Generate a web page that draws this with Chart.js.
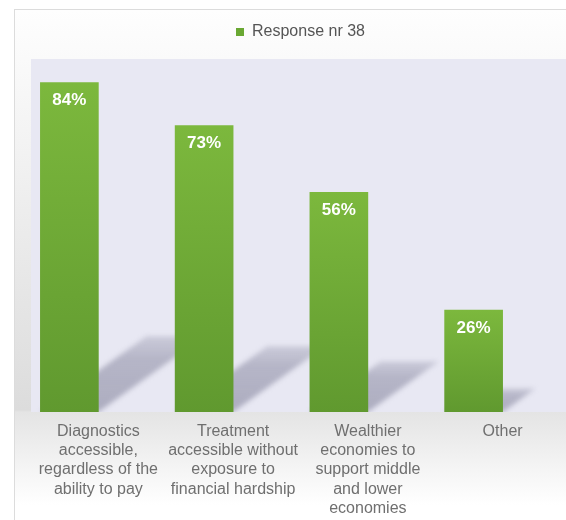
<!DOCTYPE html>
<html>
<head>
<meta charset="utf-8">
<script src="https://cdn.jsdelivr.net/npm/chart.js@4.4.1/dist/chart.umd.min.js"></script>
<style>
  html, body { margin: 0; padding: 0; width: 566px; height: 520px; overflow: hidden; background: #fff; }
  #card {
    position: absolute; left: 14px; top: 9px; width: 700px; height: 600px;
    border-top: 1px solid #dcdcdc; border-left: 1px solid #dcdcdc;
    background: linear-gradient(to bottom, #fefefe 0px, #fafafa 49px, #dcdcdc 400px, #e4e4e4 402px, #ffffff 495px);
  }
  #wrap { position: absolute; left: 0; top: 0; width: 620px; height: 531px; }
</style>
</head>
<body>
<div id="card"></div>
<div id="wrap"><canvas id="chart"></canvas></div>
<script>
// Dados do gráfico
const categorias = [
  ['Diagnostics', 'accessible,', 'regardless of the', 'ability to pay'],
  ['Treatment', 'accessible without', 'exposure to', 'financial hardship'],
  ['Wealthier', 'economies to', 'support middle', 'and lower', 'economies'],
  ['Other']
];
const valores = [84, 73, 56, 26];
const nomeSerie = 'Response nr 38';

const fonte = '"Liberation Sans", Arial, sans-serif';

// Fundo lilás da área do gráfico (estende até a borda direita)
const fundoPlugin = {
  id: 'fundo',
  beforeDraw(chart) {
    const { ctx, chartArea } = chart;
    ctx.save();
    ctx.fillStyle = '#e8e8f3';
    ctx.fillRect(chartArea.left, chartArea.top, chart.width - chartArea.left, chartArea.bottom - chartArea.top);
    ctx.restore();
  }
};

// Sombra projetada (paralelogramo) atrás de cada barra
const sombraPlugin = {
  id: 'sombra',
  beforeDatasetsDraw(chart) {
    const { ctx, chartArea } = chart;
    const meta = chart.getDatasetMeta(0);
    ctx.save();
    ctx.beginPath();
    ctx.rect(chartArea.left, chartArea.top, chart.width, chartArea.bottom - chartArea.top);
    ctx.clip();
    ctx.filter = 'blur(2.5px)';
    meta.data.forEach((bar) => {
      const w = bar.width;
      const base = bar.base;
      const h = (base - bar.y) * 0.23;
      const dx = h * 1.4;
      const left = bar.x - w / 2;
      const right = bar.x + w / 2;
      const grad = ctx.createLinearGradient(0, base, 0, base - h);
      grad.addColorStop(0, 'rgba(150,150,172,0.72)');
      grad.addColorStop(0.7, 'rgba(150,150,172,0.62)');
      grad.addColorStop(1, 'rgba(150,150,172,0.35)');
      ctx.fillStyle = grad;
      ctx.beginPath();
      ctx.moveTo(left, base);
      ctx.lineTo(right, base);
      ctx.lineTo(right + dx, base - h);
      ctx.lineTo(left + dx, base - h);
      ctx.closePath();
      ctx.fill();
    });
    ctx.restore();
  }
};

// Rótulos de percentagem dentro das barras
const rotulosPlugin = {
  id: 'rotulos',
  afterDatasetsDraw(chart) {
    const { ctx } = chart;
    const meta = chart.getDatasetMeta(0);
    ctx.save();
    ctx.fillStyle = '#ffffff';
    ctx.font = 'bold 17px ' + fonte;
    ctx.textAlign = 'center';
    ctx.textBaseline = 'middle';
    meta.data.forEach((bar, i) => {
      ctx.fillText(valores[i] + '%', bar.x, bar.y + 18);
    });
    ctx.restore();
  }
};

// Gradiente verde por barra
function corBarra(context) {
  const chart = context.chart;
  if (!chart.chartArea) return '#6fab36';
  const y = chart.scales.y;
  const topo = y.getPixelForValue(valores[context.dataIndex]);
  const base = y.getPixelForValue(0);
  const grad = chart.ctx.createLinearGradient(0, topo, 0, base);
  grad.addColorStop(0, '#7cb83d');
  grad.addColorStop(1, '#60992f');
  return grad;
}

function criarGrafico() {
  const ctx = document.getElementById('chart').getContext('2d');
  new Chart(ctx, {
    type: 'bar',
    data: {
      labels: categorias,
      datasets: [
        {
          label: nomeSerie,
          data: valores,
          backgroundColor: corBarra,
          barThickness: 58
        },
        {
          // série vazia só para reservar o espaço da sombra
          label: 'sombra',
          data: valores.map(() => null),
          backgroundColor: 'rgba(0,0,0,0)',
          barThickness: 58
        }
      ]
    },
    options: {
      responsive: true,
      maintainAspectRatio: false,
      animation: false,
      layout: { padding: { left: 31, right: 50, top: 3, bottom: 3 } },
      plugins: {
        tooltip: { enabled: false },
        // título vazio usado só como espaço entre a legenda e o gráfico
        title: {
          display: true,
          text: '',
          weight: 500,
          font: { size: 1, lineHeight: 1 },
          padding: { top: 0, bottom: 8 }
        },
        legend: {
          labels: {
            boxWidth: 8,
            boxHeight: 8,
            padding: 21,
            color: '#555555',
            font: { family: fonte, size: 16 },
            generateLabels: () => [{
              text: nomeSerie,
              fillStyle: '#6aa833',
              strokeStyle: '#6aa833',
              fontColor: '#555555',
              lineWidth: 0,
              datasetIndex: 0
            }]
          }
        }
      },
      scales: {
        x: {
          grid: { display: false, drawTicks: false },
          border: { display: false },
          ticks: {
            color: '#6f6f6f',
            padding: 10,
            maxRotation: 0,
            autoSkip: false,
            font: { family: fonte, size: 16, lineHeight: 1.2 }
          }
        },
        y: {
          display: false,
          min: 0,
          max: 90
        }
      }
    },
    plugins: [fundoPlugin, sombraPlugin, rotulosPlugin]
  });
}

document.addEventListener('DOMContentLoaded', criarGrafico);
</script>
</body>
</html>
